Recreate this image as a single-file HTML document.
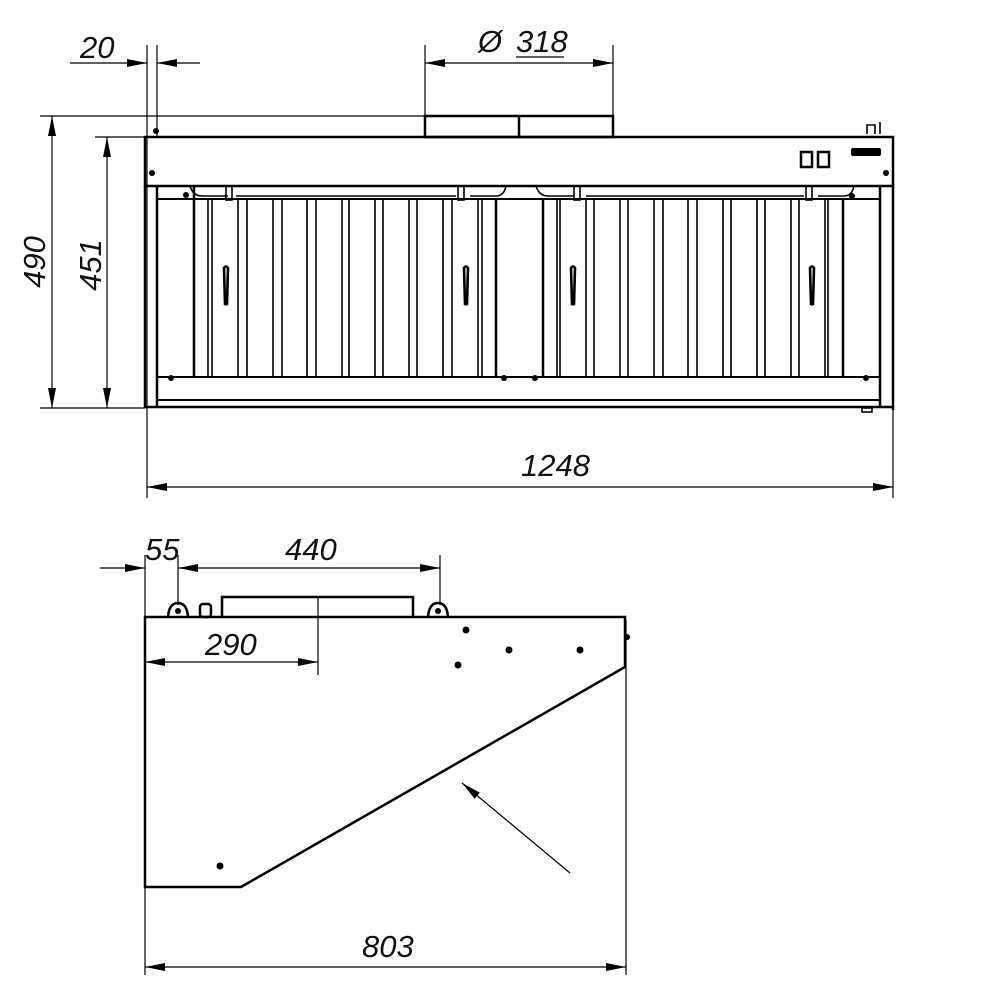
<!DOCTYPE html>
<html><head><meta charset="utf-8">
<style>
html,body{margin:0;padding:0;background:#fff;width:1000px;height:1000px;overflow:hidden}
svg{display:block}
text{font-family:"Liberation Sans",sans-serif;font-style:italic;font-size:31px;fill:#111}
</style></head><body>
<svg width="1000" height="1000" viewBox="0 0 1000 1000" xmlns="http://www.w3.org/2000/svg">
<defs>
<marker id="a" viewBox="0 0 20 8" refX="20" refY="4" markerWidth="20" markerHeight="8" markerUnits="userSpaceOnUse" orient="auto-start-reverse">
<path d="M0,0 L20,4 L0,8 Z" fill="#000"/></marker>
</defs>
<g stroke="#000" fill="none">
<g stroke-width="1.2">
<line x1="147" y1="45" x2="147" y2="498"/>
<line x1="157" y1="45" x2="157" y2="137"/>
<line x1="425" y1="45" x2="425" y2="116"/>
<line x1="613" y1="45" x2="613" y2="116"/>
<line x1="40" y1="116" x2="425" y2="116"/>
<line x1="95" y1="137" x2="145" y2="137"/>
<line x1="40" y1="408" x2="145" y2="408"/>
<line x1="893" y1="410" x2="893" y2="498"/>
<line x1="70" y1="63" x2="147" y2="63" marker-end="url(#a)"/>
<line x1="200" y1="63" x2="157" y2="63" marker-end="url(#a)"/>
<line x1="425" y1="63" x2="613" y2="63" marker-start="url(#a)" marker-end="url(#a)"/>
<line x1="52" y1="116" x2="52" y2="408" marker-start="url(#a)" marker-end="url(#a)"/>
<line x1="107" y1="137" x2="107" y2="408" marker-start="url(#a)" marker-end="url(#a)"/>
<line x1="147" y1="487" x2="893" y2="487" marker-start="url(#a)" marker-end="url(#a)"/>
<line x1="516" y1="57" x2="564" y2="57"/>
</g>
<g stroke-width="2.5">
<rect x="425" y="116" width="188" height="21"/>
<line x1="519" y1="116" x2="519" y2="137"/>
<rect x="145" y="137" width="748" height="49"/>
<line x1="145" y1="186" x2="145" y2="408"/>
<line x1="157" y1="186" x2="157" y2="408"/>
<line x1="893" y1="186" x2="893" y2="410"/>
<line x1="880" y1="186" x2="880" y2="408"/>
<line x1="157" y1="199" x2="880" y2="199" stroke-width="2"/>
<line x1="157" y1="377" x2="880" y2="377" stroke-width="2"/>
<line x1="157" y1="400" x2="880" y2="400" stroke-width="2"/>
<line x1="145" y1="407" x2="893" y2="407"/>
<line x1="194" y1="186" x2="194" y2="377"/>
<line x1="496" y1="199" x2="496" y2="377"/>
<line x1="543" y1="199" x2="543" y2="377"/>
<line x1="843" y1="199" x2="843" y2="377"/>
</g>
<g stroke-width="1.6">
<path d="M190,186 q3,10 12,10 h26 M236,196 h220 M470,196 h26 q8,0 10,-10"/>
<path d="M536,186 q3,10 12,10 h26 M586,196 h218 M818,196 h26 q8,0 10,-10"/>
<rect x="226" y="186" width="6" height="14"/><rect x="458" y="186" width="6" height="14"/>
<rect x="574" y="186" width="6" height="14"/><rect x="806" y="186" width="6" height="14"/>
<path d="M208,199V377M212,199V377M238,199V377M247,199V377M273,199V377M282,199V377M307,199V377M316,199V377M342,199V377M349,199V377M375,199V377M383,199V377M409,199V377M417,199V377M443,199V377M452,199V377M478,199V377M482,199V377"/>
<path d="M557,199V377M560,199V377M586,199V377M594,199V377M620,199V377M628,199V377M654,199V377M663,199V377M688,199V377M697,199V377M723,199V377M731,199V377M757,199V377M765,199V377M791,199V377M799,199V377M825,199V377M828,199V377"/>
<g stroke-width="2.6">
<path d="M224,268 q2,-3 4,0 l-1,36 a2,2 0 0 1 -2,0 z"/>
<path d="M464,268 q2,-3 4,0 l-1,36 a2,2 0 0 1 -2,0 z"/>
<path d="M571,268 q2,-3 4,0 l-1,36 a2,2 0 0 1 -2,0 z"/>
<path d="M810,268 q2,-3 4,0 l-1,36 a2,2 0 0 1 -2,0 z"/>
</g>
<rect x="801" y="152" width="11" height="15" stroke-width="2.5"/>
<rect x="818" y="152" width="11" height="15" stroke-width="2.5"/>
<path d="M867,134 v-9 h8 v9 M880,134 v-12"/>
<rect x="862" y="408" width="10" height="4"/>
</g>
<g fill="#000" stroke="none">
<rect x="851" y="148" width="30" height="8" rx="2"/>
<circle cx="152" cy="173" r="3"/><circle cx="886" cy="173" r="3"/>
<circle cx="186" cy="195" r="3"/><circle cx="852" cy="196" r="3"/>
<circle cx="171" cy="378" r="3"/><circle cx="504" cy="378" r="3"/><circle cx="535" cy="378" r="3"/><circle cx="866" cy="378" r="3"/>
<circle cx="156" cy="131" r="3"/>
</g>
<g stroke-width="1.2">
<line x1="145" y1="555" x2="145" y2="975"/>
<line x1="178" y1="555" x2="178" y2="605"/>
<line x1="440" y1="555" x2="440" y2="605"/>
<line x1="318" y1="597" x2="318" y2="675"/>
<line x1="626" y1="620" x2="626" y2="975"/>
<line x1="100" y1="568" x2="145" y2="568" marker-end="url(#a)"/>
<line x1="178" y1="568" x2="440" y2="568" marker-start="url(#a)" marker-end="url(#a)"/>
<line x1="145" y1="662" x2="318" y2="662" marker-start="url(#a)" marker-end="url(#a)"/>
<line x1="145" y1="967" x2="626" y2="967" marker-start="url(#a)" marker-end="url(#a)"/>
<line x1="570" y1="873" x2="462" y2="783" marker-end="url(#a)"/>
</g>
<g stroke-width="2.5">
<path d="M145,617 H625 V667 L241,887 H145 Z"/>
<path d="M222,617 V597 H413 V617"/>
<path d="M168,617 q1,-14 10,-14 q9,0 10,14"/>
<path d="M428,617 q1,-14 10,-14 q9,0 10,14"/>
<rect x="200" y="604" width="11" height="13" rx="3"/>
</g>
<g fill="#000" stroke="none">
<circle cx="178" cy="611" r="3"/><circle cx="438" cy="611" r="3"/>
<circle cx="466" cy="630" r="3.5"/><circle cx="458" cy="665" r="3.5"/>
<circle cx="509" cy="650" r="3.5"/><circle cx="580" cy="650" r="3.5"/>
<circle cx="220" cy="866" r="3.5"/><circle cx="627" cy="637" r="3"/>
</g>
</g>
<text x="80" y="58">20</text>
<text x="478" y="52">Ø</text>
<text x="516" y="52">318</text>
<text x="521" y="476">1248</text>
<text transform="translate(45,262) rotate(-90)" text-anchor="middle">490</text>
<text transform="translate(101,265) rotate(-90)" text-anchor="middle">451</text>
<text x="145" y="560">55</text>
<text x="285" y="560">440</text>
<text x="205" y="655">290</text>
<text x="362" y="957">803</text>
</svg>
</body></html>
